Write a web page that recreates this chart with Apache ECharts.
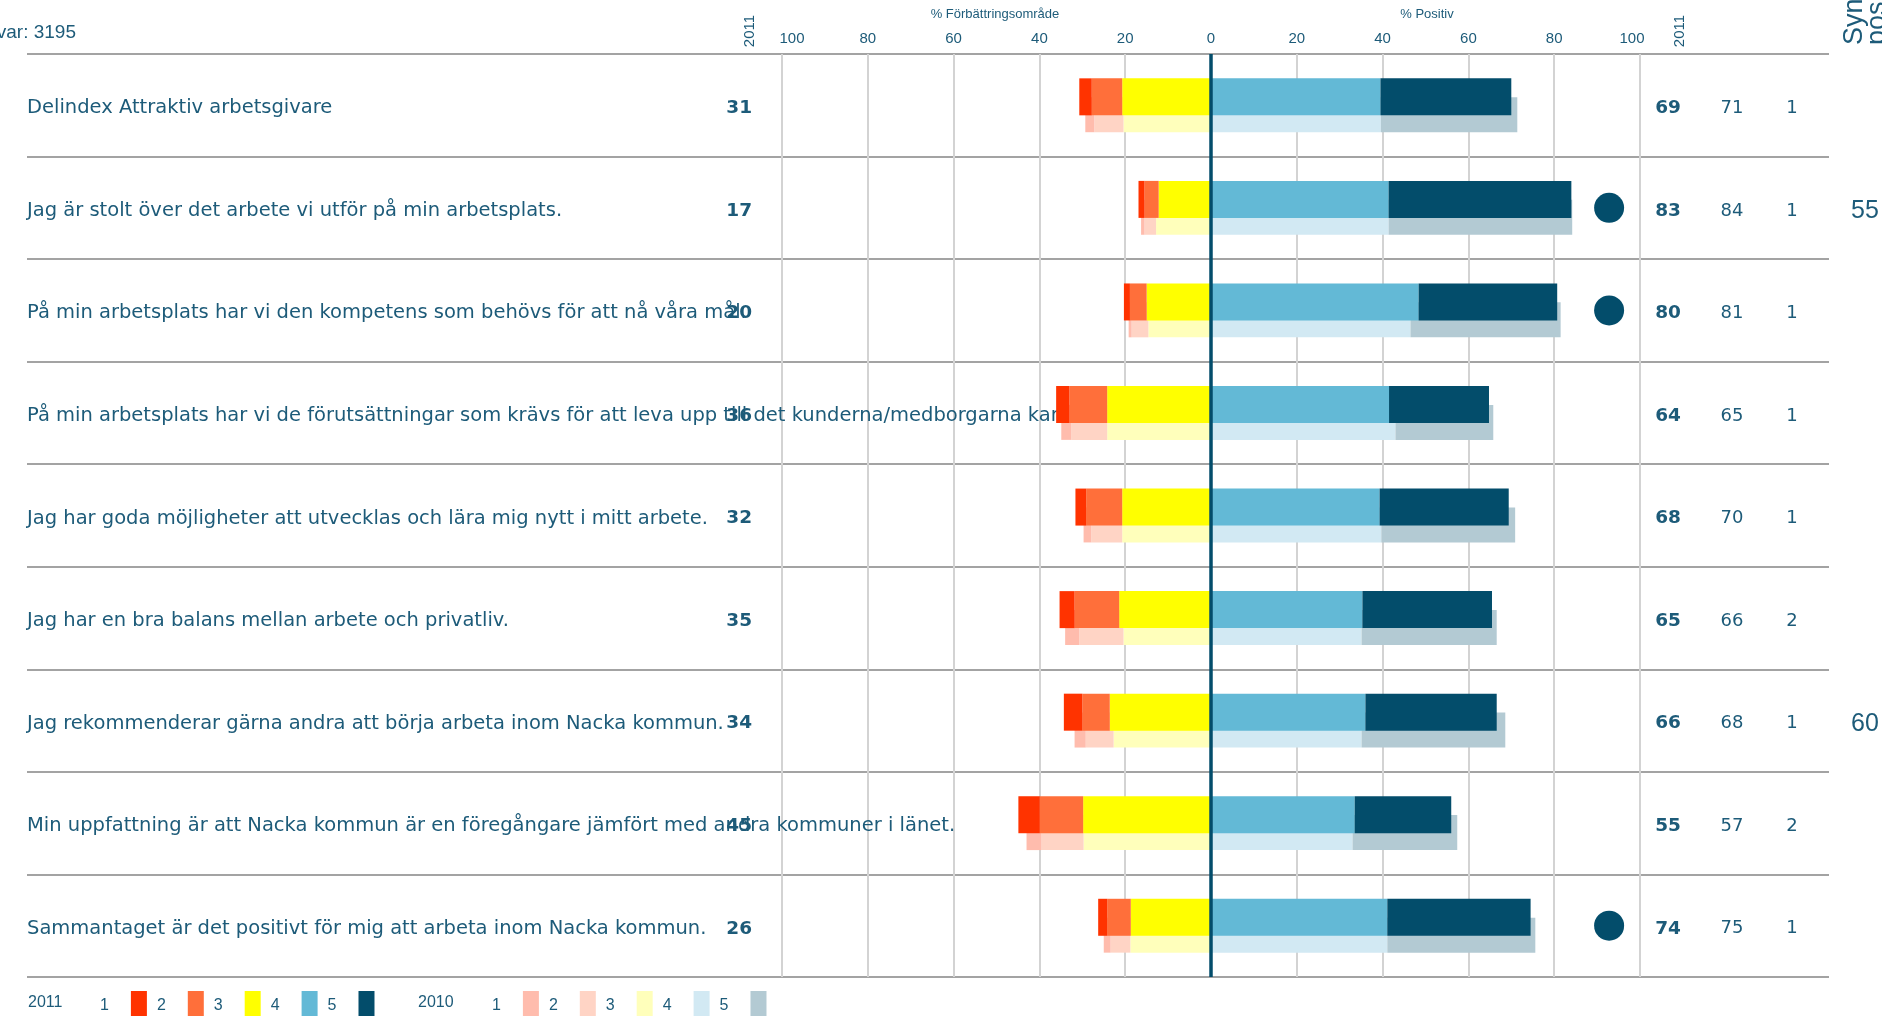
<!DOCTYPE html>
<html lang="sv">
<head>
<meta charset="UTF-8">
<title>Medarbetarenkät</title>
<script src="https://cdn.jsdelivr.net/npm/echarts@6/dist/echarts.min.js"></script>
<style>
    html, body { margin: 0; padding: 0; background: #fff; }
    #main { width: 1882px; height: 1016px; }
</style>
</head>
<body>
<div id="main"></div>
<script>
    var questions = [
        'Delindex Attraktiv arbetsgivare',
        'Jag är stolt över det arbete vi utför på min arbetsplats.',
        'På min arbetsplats har vi den kompetens som behövs för att nå våra mål.',
        'På min arbetsplats har vi de förutsättningar som krävs för att leva upp till det kunderna/medborgarna kan förvänta sig.',
        'Jag har goda möjligheter att utvecklas och lära mig nytt i mitt arbete.',
        'Jag har en bra balans mellan arbete och privatliv.',
        'Jag rekommenderar gärna andra att börja arbeta inom Nacka kommun.',
        'Min uppfattning är att Nacka kommun är en föregångare jämfört med andra kommuner i länet.',
        'Sammantaget är det positivt för mig att arbeta inom Nacka kommun.'
    ];

    // andel per svarsalternativ (1 = sämst, 5 = bäst), i procent
    var g1_2011 = [2.9, 1.4, 1.4, 3.1, 2.5, 3.5, 4.3, 5.0, 2.1];
    var g2_2011 = [7.1, 3.3, 3.9, 8.8, 8.4, 10.4, 6.4, 10.1, 5.5];
    var g3_2011 = [20.7, 12.2, 15.0, 24.2, 20.7, 21.4, 23.6, 29.8, 18.7];
    var g4_2011 = [39.5, 41.4, 48.4, 41.5, 39.3, 35.3, 36.0, 33.5, 41.1];
    var g5_2011 = [30.5, 42.6, 32.3, 23.3, 30.1, 30.2, 30.6, 22.5, 33.4];

    var g1_2010 = [2.1, 0.8, 0.7, 2.3, 1.8, 3.3, 2.6, 3.5, 1.6];
    var g2_2010 = [6.8, 2.7, 3.9, 8.4, 7.2, 10.3, 6.5, 9.8, 4.6];
    var g3_2010 = [20.4, 12.8, 14.6, 24.2, 20.7, 20.4, 22.7, 29.7, 18.8];
    var g4_2010 = [39.6, 41.4, 46.5, 43.0, 39.7, 35.1, 35.1, 33.0, 41.1];
    var g5_2010 = [31.8, 42.8, 35.0, 22.8, 31.2, 31.5, 33.5, 24.4, 34.5];

    var neg2011 = ['31', '17', '20', '36', '32', '35', '34', '45', '26'];
    var pos2011 = ['69', '83', '80', '64', '68', '65', '66', '55', '74'];
    var pos2010 = ['71', '84', '81', '65', '70', '66', '68', '57', '75'];
    var col3 = ['1', '1', '1', '1', '1', '2', '1', '2', '1'];
    var synValues = ['', '55', '', '', '', '', '60', '', ''];
    var marked = [0, 1, 1, 0, 0, 0, 0, 0, 1];
    var dotX = 92.8;

    var txt = '#1d5b79';
    var colors2011 = ['#ff3300', '#ff6f3a', '#ffff00', '#63b9d6', '#034d6b'];
    var colors2010 = ['#ffbcad', '#ffd4c5', '#ffffbb', '#d2e9f3', '#b3cad3'];

    var myChart = echarts.init(document.getElementById('main'));

    function neg(arr) { return arr.map(v => -v); }

    function barSeries(year, grade, data, color) {
        var is2011 = year === '2011';
        return {
            name: year + ' ' + grade,
            type: 'bar',
            xAxisIndex: 1,
            yAxisIndex: 6,
            stack: 'y' + year,
            barWidth: is2011 ? 37 : 35,
            barGap: '-49%',
            z: is2011 ? 3 : 2,
            itemStyle: { color: color },
            data: data
        };
    }

    // label text pushed a few px below the row centre, like the original
    function lowered(style) {
        return {
            formatter: v => v === '' ? '' : '{t|' + v + '}',
            rich: { t: Object.assign({ padding: [6, 0, 0, 0] }, style) }
        };
    }

    function colAxis(data, pos, offset, align, style) {
        style = Object.assign({ color: txt, fontFamily: 'DejaVu Sans', fontSize: 18 }, style);
        return {
            type: 'category',
            gridIndex: 0,
            inverse: true,
            position: pos,
            offset: offset,
            data: data,
            axisLine: { show: false },
            axisTick: { show: false },
            splitLine: { show: false },
            axisLabel: Object.assign({ interval: 0, margin: align === 'right' ? 1 : 0, align: align }, style, lowered(style))
        };
    }

    var series = [
        barSeries('2011', 3, neg(g3_2011), colors2011[2]),
        barSeries('2011', 2, neg(g2_2011), colors2011[1]),
        barSeries('2011', 1, neg(g1_2011), colors2011[0]),
        barSeries('2011', 4, g4_2011, colors2011[3]),
        barSeries('2011', 5, g5_2011, colors2011[4]),
        barSeries('2010', 3, neg(g3_2010), colors2010[2]),
        barSeries('2010', 2, neg(g2_2010), colors2010[1]),
        barSeries('2010', 1, neg(g1_2010), colors2010[0]),
        barSeries('2010', 4, g4_2010, colors2010[3]),
        barSeries('2010', 5, g5_2010, colors2010[4])
    ];
    series[4].markLine = {
        silent: true,
        symbol: 'none',
        label: { show: false },
        lineStyle: { color: '#034d6b', width: 3.5, type: 'solid' },
        data: [{ xAxis: 0 }]
    };
    series.push({
        type: 'scatter',
        xAxisIndex: 1,
        yAxisIndex: 6,
        symbolSize: 30,
        z: 4,
        itemStyle: { color: '#034d6b', opacity: 1 },
        data: marked.map((m, i) => m ? [dotX, i] : null).filter(d => d)
    });

    var legendBase = {
        top: 986,
        align: 'right',
        icon: 'rect',
        itemWidth: 16,
        itemHeight: 30,
        itemGap: 10,
        selectedMode: false,
        formatter: name => name.split(' ')[1],
        textStyle: { color: txt, fontSize: 16, fontFamily: 'Liberation Sans', padding: [0, 17, 0, 0] }
    };

    var tickFont = { color: txt, fontSize: 15, fontFamily: 'Liberation Sans' };
    var questionFont = { color: txt, fontSize: 19.5, fontFamily: 'DejaVu Sans' };

    var option = {
        animation: false,
        grid: [
            { left: 27, right: 53, top: 54, bottom: 39 },
            { left: 782, right: 242, top: 54, bottom: 39 }
        ],
        xAxis: [
            { type: 'value', gridIndex: 0, show: false, min: 0, max: 1 },
            {
                type: 'value', gridIndex: 1, position: 'top',
                min: -100, max: 100, interval: 20,
                axisLine: { show: false },
                axisTick: { show: false },
                axisLabel: Object.assign({
                    formatter: v => v === -100 ? '{l|100}' : v === 100 ? '{r|100}' : Math.abs(v),
                    margin: 8,
                    rich: {
                        l: Object.assign({ padding: [0, 0, 0, 20] }, tickFont),
                        r: Object.assign({ padding: [0, 16, 0, 0] }, tickFont)
                    }
                }, tickFont),
                splitLine: { show: true, lineStyle: { color: '#d3d3d3', width: 2 } }
            }
        ],
        yAxis: [
            {
                type: 'category', gridIndex: 0, inverse: true, data: questions,
                axisLine: { show: false },
                axisTick: { show: false },
                axisLabel: Object.assign({ inside: true, interval: 0, margin: 0 }, questionFont, lowered(questionFont)),
                splitLine: { show: true, lineStyle: { color: '#a3a3a3', width: 2 } }
            },
            colAxis(neg2011, 'left', -726, 'right', { fontWeight: 'bold', fontSize: 18.5 }),
            colAxis(pos2011, 'right', -161, 'center', { fontWeight: 'bold', fontSize: 18.5 }),
            colAxis(pos2010, 'right', -97, 'center', {}),
            colAxis(col3, 'right', -37, 'center', {}),
            colAxis(synValues, 'right', 22, 'left', { fontFamily: 'Liberation Sans', fontSize: 25 }),
            {
                type: 'category', gridIndex: 1, inverse: true, data: questions,
                axisLine: { show: true, lineStyle: { color: '#a3a3a3', width: 2 } },
                axisTick: { show: false },
                axisLabel: { show: false },
                splitLine: { show: false }
            }
        ],
        legend: [
            Object.assign({}, legendBase, { left: 95, data: ['2011 1', '2011 2', '2011 3', '2011 4', '2011 5'] }),
            Object.assign({}, legendBase, { left: 487, data: ['2010 1', '2010 2', '2010 3', '2010 4', '2010 5'] })
        ],
        graphic: [
            { type: 'text', x: 76, y: 33, style: { text: 'Antal svar: 3195', align: 'right', verticalAlign: 'middle', fill: txt, font: '19px "Liberation Sans"' } },
            { type: 'text', x: 995, y: 14, style: { text: '% Förbättringsområde', align: 'center', verticalAlign: 'middle', fill: txt, font: '13px "Liberation Sans"' } },
            { type: 'text', x: 1427, y: 14, style: { text: '% Positiv', align: 'center', verticalAlign: 'middle', fill: txt, font: '13px "Liberation Sans"' } },
            { type: 'text', x: 750, y: 31, rotation: Math.PI / 2, style: { text: '2011', align: 'center', verticalAlign: 'middle', fill: txt, font: '15px "Liberation Sans"' } },
            { type: 'text', x: 1680, y: 31, rotation: Math.PI / 2, style: { text: '2011', align: 'center', verticalAlign: 'middle', fill: txt, font: '15px "Liberation Sans"' } },
            { type: 'text', x: 1866, y: 45, rotation: Math.PI / 2, style: { text: 'Synpunkter\nposition', align: 'left', verticalAlign: 'middle', fill: txt, font: '27px "Liberation Sans"', lineHeight: 23 } },
            { type: 'text', x: 28, y: 1003, style: { text: '2011', align: 'left', verticalAlign: 'middle', fill: txt, font: '16px "Liberation Sans"' } },
            { type: 'text', x: 418, y: 1003, style: { text: '2010', align: 'left', verticalAlign: 'middle', fill: txt, font: '16px "Liberation Sans"' } }
        ],
        series: series
    };
    option && myChart.setOption(option);
</script>
</body>
</html>
